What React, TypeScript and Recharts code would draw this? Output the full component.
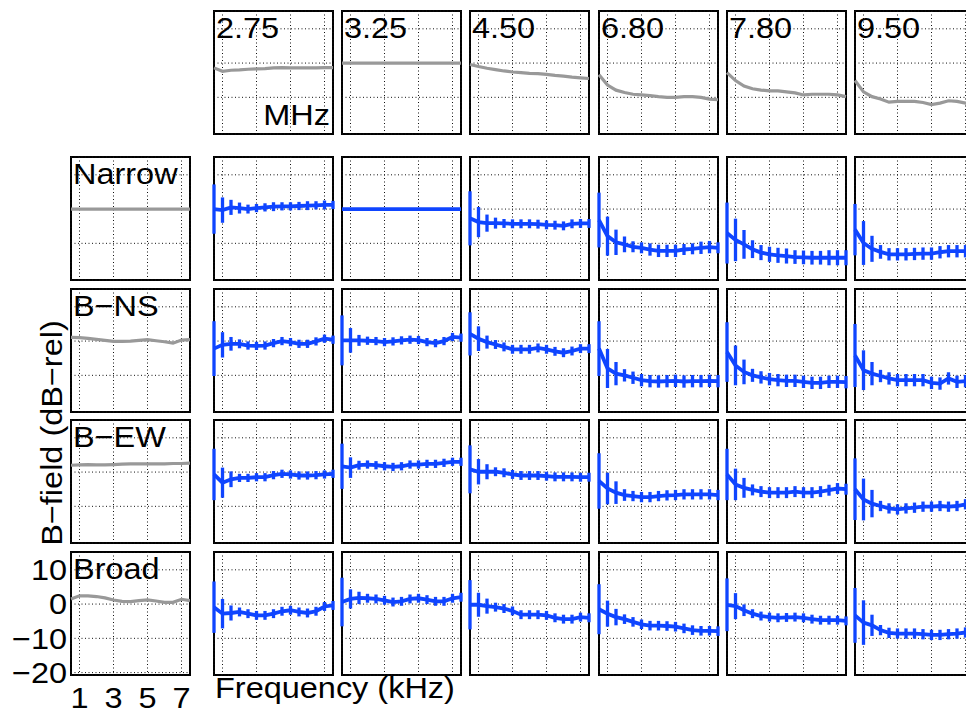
import React from 'react';
import { LineChart, Line, XAxis, YAxis, CartesianGrid, ErrorBar } from 'recharts';

// ---------- data ----------
const freqKHz = [0.5, 1, 1.5, 2, 2.5, 3, 3.5, 4, 4.5, 5, 5.5, 6, 6.5, 7, 7.5];
const xTicks = [1, 3, 5, 7];
const yTicks = [-20, -10, 0, 10];
const carrierMHz = ['2.75', '3.25', '4.50', '6.80', '7.80', '9.50'];
const bandNames = ['Narrow', 'B\u2212NS', 'B\u2212EW', 'Broad'];

// top row: reference spectra for each carrier frequency (grey)
const carrierCurves = [
  [-1.4, -2.4, -2.1, -2.0, -1.8, -1.7, -1.6, -1.4, -1.3, -1.4, -1.4, -1.4, -1.4, -1.3, -1.3],
  [0, 0, 0, 0, 0, 0, 0, 0, 0, 0, 0, 0, 0, 0, 0],
  [-0.4, -1.0, -1.5, -1.9, -2.3, -2.6, -2.8, -3.0, -3.1, -3.3, -3.6, -3.8, -4.1, -4.3, -4.5],
  [-3.4, -6.4, -7.9, -8.6, -9.1, -9.3, -9.5, -9.8, -10.0, -10.0, -9.8, -9.8, -10.0, -10.5, -10.7],
  [-2.8, -5.1, -6.7, -7.5, -7.9, -8.1, -8.1, -8.4, -8.7, -9.3, -9.1, -9.1, -9.1, -9.3, -9.8],
  [-5.1, -8.4, -9.8, -10.5, -11.4, -11.2, -11.2, -11.2, -11.5, -12.1, -11.7, -11.0, -11.2, -11.7, -11.7],
];

// left column: reference spectra for each band (grey)
const bandCurves = [
  [0, 0, 0, 0, 0, 0, 0, 0, 0, 0, 0, 0, 0, 0, 0],
  [1.1, 1.0, 0.8, 0.5, 0.2, -0.1, -0.1, 0.0, 0.2, 0.4, 0.1, -0.2, -0.6, 0.3, 0.4],
  [2.0, 2.1, 2.2, 2.1, 2.1, 2.2, 2.3, 2.4, 2.4, 2.4, 2.4, 2.4, 2.5, 2.5, 2.6],
  [1.5, 2.4, 2.4, 2.2, 1.8, 1.2, 0.8, 0.7, 1.0, 1.2, 0.9, 0.5, 0.5, 1.4, 1.0],
];

// blue means, one array per carrier, per band
const narrowMeans = [
  [0.0, -0.3, 0.5, 0.3, 0.0, 0.3, 0.5, 0.7, 0.8, 0.8, 0.9, 1.0, 1.1, 1.2, 1.2],
  [0, 0, 0, 0, 0, 0, 0, 0, 0, 0, 0, 0, 0, 0, 0],
  [-2.7, -3.8, -4.1, -4.1, -4.2, -4.3, -4.3, -4.3, -4.4, -4.6, -4.7, -4.9, -4.3, -4.2, -4.2],
  [-3.2, -7.9, -9.7, -10.3, -11.0, -11.3, -11.8, -12.2, -12.2, -12.2, -11.8, -11.6, -11.3, -11.1, -11.3],
  [-7.0, -9.0, -10.3, -11.7, -12.7, -13.2, -13.5, -13.7, -14.0, -14.1, -14.2, -14.2, -14.2, -14.2, -14.2],
  [-6.0, -9.9, -11.6, -12.5, -13.2, -13.2, -13.2, -13.1, -13.0, -13.0, -12.6, -12.3, -12.3, -12.3, -12.3],
];
const narrowErrs = [
  [7.2, 3.7, 2.2, 1.6, 1.3, 1.2, 1.2, 1.3, 1.2, 1.2, 1.2, 1.3, 1.2, 1.3, 1.2],
  null,
  [7.9, 4.4, 2.5, 1.6, 1.3, 1.3, 1.3, 1.3, 1.3, 1.3, 1.3, 1.3, 1.3, 1.3, 1.3],
  [8.0, 5.7, 3.7, 2.3, 1.6, 1.6, 1.8, 1.8, 1.8, 1.8, 1.6, 1.6, 1.8, 1.8, 1.6],
  [8.9, 6.2, 4.2, 2.6, 2.2, 2.2, 2.2, 2.2, 2.0, 2.0, 2.0, 2.0, 2.2, 2.2, 2.2],
  [7.5, 6.4, 3.8, 2.0, 1.8, 1.8, 1.8, 1.8, 1.8, 1.8, 1.8, 1.8, 1.8, 1.8, 1.8],
];

const bnsMeans = [
  [-2.2, -1.1, -0.8, -0.8, -1.3, -1.4, -1.3, -0.6, 0.0, -0.3, -0.8, -0.8, -0.1, 0.7, 0.4],
  [0.2, 0.2, 0.2, 0.1, 0.0, -0.3, -0.1, 0.2, 0.4, 0.3, -0.3, -0.6, 0.0, 1.2, 1.0],
  [2.1, 0.7, -0.3, -1.0, -1.7, -2.4, -2.4, -2.4, -2.0, -2.4, -3.0, -3.4, -2.9, -2.2, -2.2],
  [-2.2, -8.0, -9.5, -10.0, -10.7, -11.4, -11.7, -11.8, -11.7, -11.6, -11.8, -11.7, -11.7, -11.6, -11.7],
  [-3.2, -7.1, -9.0, -10.0, -10.6, -11.1, -11.4, -11.6, -11.6, -11.9, -12.2, -12.2, -11.9, -11.9, -12.0],
  [-4.2, -8.5, -9.5, -10.2, -10.9, -11.4, -11.4, -11.4, -11.4, -12.2, -12.4, -10.9, -11.9, -11.7, -11.7],
];
const bnsErrs = [
  [8.0, 3.7, 2.0, 1.3, 1.2, 1.2, 1.2, 1.2, 1.2, 1.2, 1.2, 1.2, 1.2, 1.2, 1.2],
  [7.3, 3.6, 1.6, 1.2, 1.2, 1.2, 1.2, 1.2, 1.2, 1.2, 1.2, 1.2, 1.2, 1.2, 1.2],
  [6.3, 3.6, 1.9, 1.3, 1.3, 1.3, 1.3, 1.3, 1.3, 1.3, 1.3, 1.3, 1.3, 1.3, 1.3],
  [8.0, 5.7, 3.4, 1.8, 1.8, 1.8, 1.8, 1.8, 1.8, 1.8, 1.8, 1.8, 1.8, 1.8, 1.8],
  [8.7, 5.8, 3.6, 1.9, 1.8, 1.8, 1.8, 1.8, 1.8, 1.8, 1.8, 1.8, 1.8, 1.8, 1.8],
  [9.2, 5.8, 3.4, 1.8, 1.8, 1.8, 1.8, 1.8, 1.8, 1.8, 1.8, 1.8, 1.8, 1.8, 1.8],
];

const bewMeans = [
  [-0.7, -3.1, -2.1, -1.7, -1.7, -1.5, -1.5, -0.9, -0.5, -0.7, -1.0, -1.0, -0.9, -0.7, -0.5],
  [1.7, 1.3, 2.0, 2.2, 2.0, 1.7, 1.5, 1.7, 2.2, 2.2, 2.4, 2.4, 2.7, 3.0, 3.0],
  [0.8, 0.1, 0.1, 0.1, -0.2, -0.7, -1.0, -1.0, -1.0, -1.2, -1.4, -1.4, -1.4, -1.5, -1.5],
  [-2.6, -4.8, -6.0, -6.7, -7.0, -7.3, -7.3, -7.0, -6.8, -6.7, -6.5, -6.5, -6.5, -6.5, -6.7],
  [-0.7, -3.6, -4.6, -5.2, -5.7, -6.0, -6.0, -6.0, -5.7, -6.0, -6.0, -5.7, -5.3, -4.8, -5.0],
  [-5.0, -8.0, -9.2, -9.9, -10.6, -10.9, -10.6, -10.4, -10.1, -10.1, -9.9, -10.1, -9.9, -9.4, -9.4],
];
const bewErrs = [
  [7.5, 4.4, 2.3, 1.2, 1.2, 1.2, 1.2, 1.2, 1.2, 1.2, 1.2, 1.2, 1.2, 1.2, 1.2],
  [6.6, 3.0, 1.3, 1.2, 1.2, 1.2, 1.2, 1.2, 1.2, 1.2, 1.2, 1.2, 1.2, 1.2, 1.2],
  [7.0, 3.7, 2.2, 1.3, 1.3, 1.3, 1.3, 1.3, 1.3, 1.3, 1.3, 1.3, 1.3, 1.3, 1.3],
  [8.1, 4.6, 3.3, 1.7, 1.5, 1.5, 1.5, 1.5, 1.5, 1.5, 1.5, 1.5, 1.5, 1.5, 1.5],
  [7.5, 4.6, 2.9, 1.6, 1.6, 1.6, 1.6, 1.6, 1.6, 1.6, 1.6, 1.6, 1.6, 1.6, 1.6],
  [9.0, 6.1, 4.0, 1.5, 1.5, 1.5, 1.5, 1.5, 1.5, 1.5, 1.5, 1.5, 1.5, 1.5, 1.5],
];

const broadMeans = [
  [-0.9, -2.8, -2.6, -2.3, -2.8, -3.3, -3.3, -2.8, -2.1, -1.8, -2.3, -2.6, -2.1, -0.7, -0.4],
  [0.6, 1.5, 1.8, 1.7, 1.5, 1.1, 0.6, 0.8, 1.5, 1.7, 1.3, 0.8, 0.8, 1.7, 2.0],
  [-0.2, -0.2, -0.6, -0.9, -1.3, -2.0, -3.1, -3.1, -3.1, -3.3, -4.0, -4.4, -4.4, -3.8, -4.0],
  [-1.5, -2.8, -3.8, -4.4, -5.2, -5.9, -6.3, -6.3, -6.4, -6.6, -7.1, -7.6, -7.8, -7.8, -7.9],
  [-0.2, -0.6, -1.8, -2.8, -3.5, -3.8, -4.0, -3.9, -3.8, -4.0, -4.4, -4.7, -4.7, -4.7, -4.9],
  [-3.3, -5.4, -6.2, -7.6, -8.4, -8.6, -8.6, -8.6, -8.8, -9.0, -9.0, -8.8, -8.6, -8.3, -8.3],
];
const broadErrs = [
  [7.5, 4.3, 2.2, 1.3, 1.3, 1.3, 1.3, 1.3, 1.3, 1.3, 1.3, 1.3, 1.3, 1.3, 1.3],
  [7.1, 2.8, 1.8, 1.3, 1.3, 1.3, 1.3, 1.3, 1.3, 1.3, 1.3, 1.3, 1.3, 1.3, 1.3],
  [7.2, 3.5, 2.2, 1.3, 1.3, 1.3, 1.3, 1.3, 1.3, 1.3, 1.3, 1.3, 1.3, 1.3, 1.3],
  [7.3, 3.8, 2.4, 1.4, 1.4, 1.4, 1.4, 1.4, 1.4, 1.4, 1.4, 1.4, 1.4, 1.4, 1.4],
  [7.7, 3.8, 1.7, 1.3, 1.3, 1.3, 1.3, 1.3, 1.3, 1.3, 1.3, 1.3, 1.3, 1.3, 1.3],
  [8.0, 6.5, 3.1, 1.5, 1.5, 1.5, 1.5, 1.5, 1.5, 1.5, 1.5, 1.5, 1.5, 1.5, 1.5],
];

const bandMeans = [narrowMeans, bnsMeans, bewMeans, broadMeans];
const bandErrs = [narrowErrs, bnsErrs, bewErrs, broadErrs];

// ---------- layout / style ----------
const BLUE = '#0f45ff';
const GREY = '#999999';
const FONT = '"Liberation Sans", Arial, Helvetica, sans-serif';
const FS = 29;
const SX = 1.12;
const PW = 119;
const PH = 123;
const PAD = 3;
const X_DOMAIN: [number, number] = [0.5, 7.5];
const Y_DOMAIN: [number, number] = [-20.7, 15.2];
const COL_LEFT = [214, 342, 470, 599, 727, 855];
const LEFT_COL = 71;
const ROW_TOP = [11, 157, 289, 420, 552];

const toRows = (values: number[], errs: number[] | null) =>
  freqKHz.map((x, i) => ({ x, y: values[i], e: errs ? errs[i] : 0 }));

function Frame({ left, top }: { left: number; top: number }) {
  return (
    <div
      style={{
        position: 'absolute',
        left: left - 1,
        top: top - 1,
        width: PW + 2,
        height: PH + 2,
        boxSizing: 'border-box',
        border: '2px solid #000',
        pointerEvents: 'none',
      }}
    />
  );
}

function Panel({
  left,
  top,
  values,
  errs,
  color,
  width,
}: {
  left: number;
  top: number;
  values: number[];
  errs: number[] | null;
  color: string;
  width: number;
}) {
  const data = toRows(values, errs);
  return (
    <>
      <Frame left={left} top={top} />
      <div style={{ position: 'absolute', left: left - PAD, top: top - PAD, width: PW + 2 * PAD, height: PH + 2 * PAD }}>
        <LineChart
          width={PW + 2 * PAD}
          height={PH + 2 * PAD}
          data={data}
          margin={{ top: PAD, right: PAD, bottom: PAD, left: PAD }}
        >
          <XAxis type="number" dataKey="x" domain={X_DOMAIN} ticks={xTicks} hide />
          <YAxis type="number" domain={Y_DOMAIN} ticks={yTicks} hide />
          <CartesianGrid stroke="#111" strokeDasharray="1 2.5" strokeWidth={1} />
          <Line
            type="linear"
            dataKey="y"
            stroke={color}
            strokeWidth={width}
            dot={false}
            isAnimationActive={false}
          >
            {errs ? (
              <ErrorBar
                dataKey="e"
                direction="y"
                width={0}
                stroke={color}
                strokeWidth={3.3}
                isAnimationActive={false}
              />
            ) : null}
          </Line>
        </LineChart>
      </div>
    </>
  );
}

const YTick = (props: any) => {
  const { x, y, payload } = props;
  const label = String(payload.value).replace('-', '\u2212');
  return (
    <text
      transform={`translate(${x},${y + 10.3}) scale(${SX},1)`}
      textAnchor="end"
      fontSize={FS}
      fontFamily={FONT}
      fill="#000"
    >
      {label}
    </text>
  );
};

const XTick = (props: any) => {
  const { x, y, payload } = props;
  return (
    <text
      transform={`translate(${x},${y + 33}) scale(${SX},1)`}
      textAnchor="middle"
      fontSize={FS}
      fontFamily={FONT}
      fill="#000"
    >
      {String(payload.value)}
    </text>
  );
};

function AxesPanel({ values }: { values: number[] }) {
  const data = toRows(values, null);
  const top = ROW_TOP[4];
  return (
    <>
      <Frame left={LEFT_COL} top={top} />
      <div style={{ position: 'absolute', left: 0, top, width: LEFT_COL + PW, height: PH + 40 }}>
        <LineChart
          width={LEFT_COL + PW}
          height={PH + 40}
          data={data}
          margin={{ top: 0, right: 0, bottom: 0, left: 0 }}
        >
          <XAxis
            type="number"
            dataKey="x"
            domain={X_DOMAIN}
            ticks={xTicks}
            height={40}
            axisLine={false}
            tickLine={false}
            tickSize={0}
            tickMargin={0}
            tick={XTick}
            interval={0}
          />
          <YAxis
            type="number"
            domain={Y_DOMAIN}
            ticks={yTicks}
            width={LEFT_COL}
            axisLine={false}
            tickLine={false}
            tickSize={0}
            tickMargin={4}
            tick={YTick}
            interval={0}
          />
          <CartesianGrid stroke="#111" strokeDasharray="1 2.5" strokeWidth={1} />
          <Line type="linear" dataKey="y" stroke={GREY} strokeWidth={3.2} dot={false} isAnimationActive={false} />
        </LineChart>
      </div>
    </>
  );
}

function Label({ x, y, text, anchor = 'start', rotate = 0 }: { x: number; y: number; text: string; anchor?: string; rotate?: number }) {
  return (
    <text
      transform={`translate(${x},${y}) rotate(${rotate}) scale(${SX},1)`}
      textAnchor={anchor as any}
      fontSize={FS}
      fontFamily={FONT}
      fill="#000"
    >
      {text}
    </text>
  );
}

export default function App() {
  return (
    <div
      style={{
        position: 'absolute',
        left: 0,
        top: 0,
        width: 966,
        height: 715,
        overflow: 'hidden',
        background: '#fff',
      }}
    >
      {/* top row: carrier reference curves */}
      {carrierCurves.map((vals, c) => (
        <Panel key={`t${c}`} left={COL_LEFT[c]} top={ROW_TOP[0]} values={vals} errs={null} color={GREY} width={3.2} />
      ))}
      {/* left column: band reference curves */}
      {bandCurves.slice(0, 3).map((vals, r) => (
        <Panel key={`l${r}`} left={LEFT_COL} top={ROW_TOP[r + 1]} values={vals} errs={null} color={GREY} width={3.2} />
      ))}
      <AxesPanel values={bandCurves[3]} />
      {/* main grid */}
      {bandMeans.map((rowMeans, r) =>
        rowMeans.map((vals, c) => (
          <Panel
            key={`m${r}-${c}`}
            left={COL_LEFT[c]}
            top={ROW_TOP[r + 1]}
            values={vals}
            errs={bandErrs[r][c]}
            color={BLUE}
            width={3.8}
          />
        ))
      )}
      <svg
        width={966}
        height={715}
        style={{ position: 'absolute', left: 0, top: 0, pointerEvents: 'none' }}
      >
        {carrierMHz.map((t, c) => (
          <Label key={`ct${c}`} x={COL_LEFT[c] + 2} y={ROW_TOP[0] + 27} text={t} />
        ))}
        <Label x={COL_LEFT[0] + PW - 3} y={ROW_TOP[0] + 114} text="MHz" anchor="end" />
        {bandNames.map((t, r) => (
          <Label key={`bn${r}`} x={LEFT_COL + 2} y={ROW_TOP[r + 1] + 27} text={t} />
        ))}
        <Label x={215} y={698} text="Frequency (kHz)" />
        <Label x={62} y={433} text={'B\u2212field (dB\u2212rel)'} anchor="middle" rotate={-90} />
      </svg>
    </div>
  );
}
